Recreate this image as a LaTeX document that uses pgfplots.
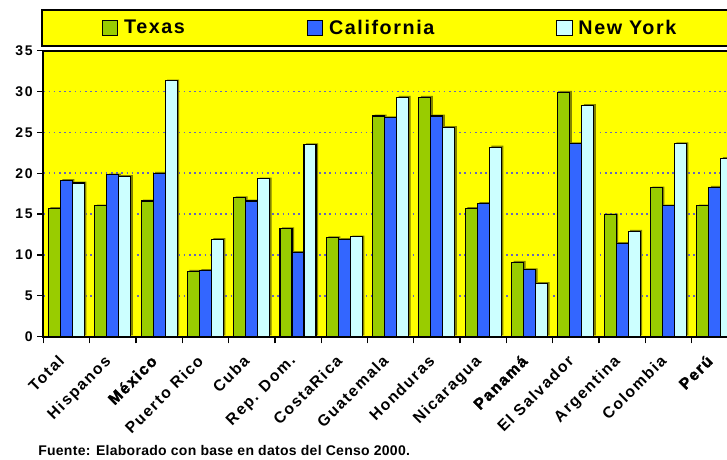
\documentclass[border=0pt]{standalone}
\usepackage{fontspec}
\setmainfont{Liberation Sans}
\usepackage{pgfplots}
\usepackage{pgfplotstable}
\pgfplotsset{compat=1.18}
\definecolor{tex}{RGB}{153,204,0}
\definecolor{cal}{RGB}{51,102,255}
\definecolor{ny}{RGB}{204,255,255}
\definecolor{bg}{RGB}{255,255,0}
\definecolor{gridc}{RGB}{102,102,187}
\definecolor{shad}{RGB}{130,130,0}
\newcommand\heavy{\addfontfeatures{FakeBold=2}}

\pgfplotstableread{
idx tex cal ny
0 15.7 19.1 18.8
1 16.0 19.8 19.6
2 16.6 20.0 31.3
3 8.0 8.1 11.9
4 17.0 16.6 19.3
5 13.2 10.3 23.5
6 12.1 11.9 12.2
7 27.0 26.8 29.3
8 29.3 27.0 25.6
9 15.7 16.3 23.2
10 9.1 8.2 6.5
11 29.9 23.6 28.3
12 14.9 11.4 12.9
13 18.2 16.0 23.6
14 16.0 18.3 21.8
}\datatable

\begin{document}
\begin{tikzpicture}
\begin{axis}[
  scale only axis, width=521pt, height=214.5pt,
  at={(0,0)}, anchor=south west,
  xmin=-0.5, xmax=14.5, ymin=0, ymax=35,
  axis background/.style={fill=bg},
  axis line style={line width=1.5pt, black},
  ybar, bar width=9pt,
  xtick={0,...,14},
  xticklabels={Total,Hispanos,{\heavy México},Puerto Rico,Cuba,Rep. Dom.,CostaRica,Guatemala,Honduras,Nicaragua,{\heavy Panamá},El Salvador,Argentina,Colombia,{\heavy Perú}},
  major x tick style={draw=none},
  extra x ticks={-0.5,0.5,...,14.5},
  extra x tick labels={},
  extra x tick style={major x tick style={draw=black, line width=1pt}, major tick length=5pt, grid=none},
  xtick pos=bottom, ytick pos=left,
  ytick={0,5,...,35},
  tick align=outside, major tick length=4.5pt,
  tick style={black, line width=1pt},
  ymajorgrids,
  grid style={gridc, line width=1.3pt, dash pattern=on 1.3pt off 2.6pt},
  /pgf/number format/assume math mode=true,
  yticklabel style={font=\bfseries\fontsize{10.5}{12}\selectfont\addfontfeatures{LetterSpace=12}},
  xticklabel style={xshift=-7pt, yshift=-7pt, rotate=45, anchor=north east, inner sep=1pt, font=\bfseries\fontsize{11.8}{13}\selectfont\addfontfeatures{LetterSpace=10}},
  legend style={at={(rel axis cs:0,1)}, anchor=south west, xshift=-1.7pt, yshift=2.6pt,
    draw=black, line width=1.5pt, fill=bg, inner xsep=45pt, inner ysep=5.5pt,
    legend columns=3,
    font=\bfseries\fontsize{14.8}{16}\selectfont\addfontfeatures{LetterSpace=8},
    /tikz/every odd column/.append style={column sep=2.5pt},
    /tikz/every even column/.append style={column sep=89.5pt}},
  legend image code/.code={\draw[#1, line width=0.6pt] (0pt,-5.8pt) rectangle (11.5pt,5.8pt);},
]
\addplot[fill=shad, draw=none, bar shift=-7.5pt, yshift=1pt, forget plot] table[x=idx,y=tex]{\datatable};
\addplot[fill=shad, draw=none, bar shift=1.5pt, yshift=1pt, forget plot] table[x=idx,y=cal]{\datatable};
\addplot[fill=shad, draw=none, bar shift=10.5pt, yshift=1pt, forget plot] table[x=idx,y=ny]{\datatable};
\addplot[fill=tex, draw=black, line width=0.8pt, bar shift=-9pt] table[x=idx,y=tex]{\datatable};
\addlegendentry{Texas}
\addplot[fill=cal, draw=black, line width=0.8pt, bar shift=0pt] table[x=idx,y=cal]{\datatable};
\addlegendentry{California}
\addplot[fill=ny, draw=black, line width=0.8pt, bar shift=9pt] table[x=idx,y=ny]{\datatable};
\addlegendentry{New York}
\end{axis}
\node[anchor=west, inner sep=0pt, font=\bfseries\fontsize{10.5}{12}\selectfont\addfontfeatures{LetterSpace=2}] at (-4pt,-85.7pt) {Fuente: Elaborado con base en datos del Censo 2000.};
\pgfresetboundingbox
\useasboundingbox (-32.5pt,-92.5pt) rectangle (512.8pt,252.5pt);
\end{tikzpicture}
\end{document}
